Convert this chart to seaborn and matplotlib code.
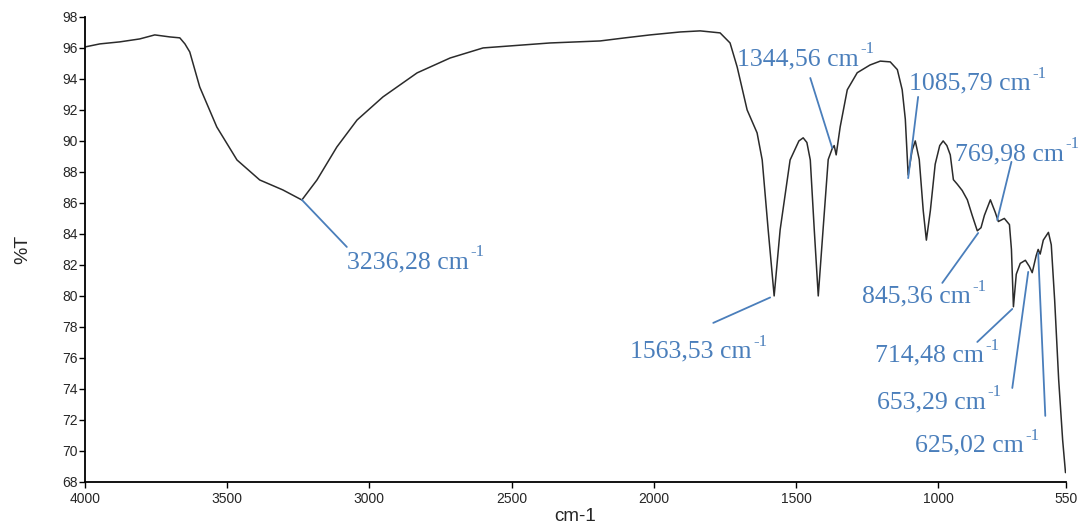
import numpy as np
import pandas as pd
import seaborn as sns
import matplotlib
matplotlib.use("Agg")
import matplotlib.pyplot as plt

# spectrum (wavenumber cm-1, %T)
wavenumber = [4000, 3947, 3877, 3807, 3754, 3701, 3666, 3648, 3631, 3596,
              3536, 3465, 3385, 3304, 3237, 3184, 3114, 3043, 2952, 2832,
              2716, 2600, 2365, 2189, 2101, 2013, 1907, 1837, 1767, 1732,
              1707, 1672, 1637, 1619, 1598, 1577, 1556, 1521, 1490, 1475,
              1462, 1450, 1436, 1422, 1405, 1387, 1373, 1366, 1359, 1345,
              1320, 1285, 1240, 1204, 1169, 1144, 1127, 1116, 1106, 1092,
              1081, 1067, 1053, 1042, 1028, 1011, 995, 983, 970, 958,
              947, 933, 916, 898, 881, 863, 850, 838, 817, 800,
              789, 768, 750, 743, 736, 726, 712, 694, 680, 670,
              656, 649, 642, 631, 613, 603, 591, 577, 563, 553]
transmittance = [96.06, 96.26, 96.39, 96.58, 96.84, 96.71, 96.65, 96.26, 95.74, 93.48,
                 90.90, 88.77, 87.48, 86.84, 86.19, 87.48, 89.61, 91.35, 92.84, 94.39,
                 95.35, 96.00, 96.32, 96.45, 96.65, 96.84, 97.03, 97.10, 96.97, 96.32,
                 94.77, 92.00, 90.52, 88.77, 84.26, 80.00, 84.26, 88.77, 90.00, 90.20,
                 89.90, 88.77, 84.26, 80.00, 84.30, 88.80, 89.50, 89.70, 89.10, 90.90,
                 93.30, 94.40, 94.90, 95.15, 95.10, 94.60, 93.30, 91.40, 87.80, 89.40,
                 90.00, 88.80, 85.50, 83.60, 85.50, 88.50, 89.70, 90.00, 89.70, 89.10,
                 87.50, 87.20, 86.80, 86.20, 85.20, 84.20, 84.40, 85.20, 86.20, 85.40,
                 84.80, 85.00, 84.60, 83.00, 79.30, 81.40, 82.10, 82.30, 81.90, 81.50,
                 82.60, 83.00, 82.70, 83.60, 84.10, 83.30, 79.70, 74.60, 70.70, 68.60]

# peak labels: where the leader line touches the curve, where it ends, where the text sits
peak_labels = ["3236,28", "1563,53", "1344,56", "1085,79", "845,36",
               "769,98", "714,48", "653,29", "625,02"]
peak_xy = [(3237, 86.2), (1591, 79.9), (1373, 89.55), (1106, 87.6), (860, 84.06),
           (793, 84.9), (740, 79.16), (684, 81.55), (649, 82.77)]
line_end = [(3079, 83.16), (1791, 78.26), (1450, 94.06), (1071, 92.84), (986, 80.84),
            (743, 88.65), (863, 77.03), (740, 74.06), (624, 72.26)]
text_pos = [(3079, 81.8), (2083, 76.0), (1707, 94.9), (1102, 93.3), (1267, 79.55),
            (940, 88.77), (1222, 75.74), (1215, 72.77), (1081, 69.94)]

df = pd.DataFrame({"wavenumber": wavenumber, "T": transmittance})

sns.set_style("ticks")
plt.rcParams["font.family"] = ["Liberation Sans", "DejaVu Sans"]

fig, ax = plt.subplots(figsize=(10.87, 5.29), dpi=100)
fig.subplots_adjust(left=0.078, right=0.981, top=0.968, bottom=0.089)

sns.lineplot(data=df, x="wavenumber", y="T", ax=ax, color="#2b2b2b",
             linewidth=1.1, sort=False, estimator=None)

ax.set_xlim(4000, 550)
ax.set_ylim(68, 98)
ax.set_xticks([4000, 3500, 3000, 2500, 2000, 1500, 1000, 550])
ax.set_yticks(np.arange(68, 99, 2))
ax.tick_params(axis="both", labelsize=10, length=4, width=1, color="black",
               direction="out")
ax.tick_params(axis="x", pad=3)
ax.tick_params(axis="y", pad=1)
for s in ["left", "bottom"]:
    ax.spines[s].set_color("black")
    ax.spines[s].set_linewidth(1.3)
sns.despine(ax=ax)

ax.set_xlabel("cm-1", fontsize=13.5, labelpad=2)
ax.set_ylabel("%T", fontsize=14, labelpad=22)

blue = "#4a7ebb"
for lab, p, e, t in zip(peak_labels, peak_xy, line_end, text_pos):
    ax.plot([p[0], e[0]], [p[1], e[1]], color=blue, linewidth=1.3)
    txt = ax.text(t[0], t[1], lab + " cm", color=blue, fontsize=18.5,
                  family="Liberation Serif", ha="left", va="baseline")
    ax.annotate("-1", xy=(1, 1), xycoords=txt, xytext=(1, -1),
                textcoords="offset points", color=blue, fontsize=12,
                family="Liberation Serif", ha="left", va="center")

fig.savefig("out.png", dpi=100)
